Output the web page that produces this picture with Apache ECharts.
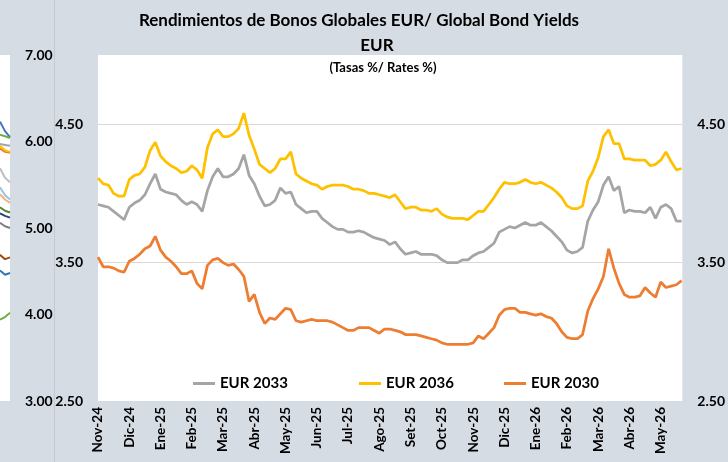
<!DOCTYPE html>
<html>
<head>
<meta charset="utf-8">
<script src="https://cdn.jsdelivr.net/npm/echarts@6/dist/echarts.min.js"></script>
<style>
  html, body { margin: 0; padding: 0; background: #d6dce4; }
  #chart { width: 728px; height: 462px; }
</style>
</head>
<body>
<div id="chart"></div>
<script>
// month labels on the x axis (one tick per month)
var months = ["Nov-24", "Dic-24", "Ene-25", "Feb-25", "Mar-25", "Abr-25", "May-25", "Jun-25", "Jul-25", "Ago-25",
  "Set-25", "Oct-25", "Nov-25", "Dic-25", "Ene-26", "Feb-26", "Mar-26", "Abr-26", "May-26"];

// readings taken six times per month, starting at Nov-24
var perMonth = 6;

var eur2033 = [
  3.92, 3.91, 3.90, 3.87, 3.84, 3.81, 3.90, 3.93, 3.95, 3.99,
  4.07, 4.14, 4.03, 4.01, 4.00, 3.99, 3.95, 3.92, 3.94, 3.92,
  3.87, 4.02, 4.12, 4.18, 4.12, 4.12, 4.14, 4.18, 4.28, 4.13,
  4.07, 3.98, 3.91, 3.92, 3.95, 4.04, 4.00, 4.01, 3.92, 3.89,
  3.86, 3.87, 3.87, 3.82, 3.79, 3.76, 3.74, 3.74, 3.72, 3.72,
  3.73, 3.72, 3.70, 3.68, 3.67, 3.66, 3.63, 3.65, 3.60, 3.56,
  3.57, 3.58, 3.56, 3.56, 3.56, 3.55, 3.52, 3.50, 3.50, 3.50,
  3.52, 3.52, 3.55, 3.57, 3.58, 3.61, 3.64, 3.72, 3.74, 3.76,
  3.75, 3.77, 3.79, 3.77, 3.77, 3.79, 3.76, 3.73, 3.69, 3.65,
  3.59, 3.57, 3.58, 3.61, 3.80, 3.88, 3.94, 4.06, 4.12, 4.02,
  4.05, 3.86, 3.88, 3.87, 3.87, 3.86, 3.90, 3.82, 3.90, 3.92,
  3.89, 3.80, 3.80
];

var eur2036 = [
  4.11, 4.07, 4.06, 4.00, 3.98, 3.98, 4.10, 4.13, 4.14, 4.19,
  4.31, 4.37, 4.27, 4.23, 4.20, 4.18, 4.15, 4.16, 4.20, 4.17,
  4.11, 4.33, 4.43, 4.46, 4.41, 4.41, 4.43, 4.47, 4.58, 4.42,
  4.32, 4.21, 4.18, 4.15, 4.18, 4.25, 4.25, 4.30, 4.14, 4.11,
  4.09, 4.07, 4.06, 4.03, 4.05, 4.06, 4.06, 4.06, 4.05, 4.03,
  4.03, 4.02, 4.00, 4.00, 3.99, 3.98, 3.97, 3.99, 3.94, 3.89,
  3.90, 3.90, 3.88, 3.88, 3.87, 3.89, 3.85, 3.83, 3.82, 3.82,
  3.82, 3.81, 3.84, 3.87, 3.87, 3.92, 3.97, 4.03, 4.08, 4.07,
  4.07, 4.08, 4.10, 4.08, 4.07, 4.08, 4.06, 4.04, 4.01, 3.97,
  3.91, 3.89, 3.89, 3.91, 4.09, 4.16, 4.26, 4.41, 4.46, 4.36,
  4.36, 4.25, 4.25, 4.24, 4.24, 4.24, 4.20, 4.21, 4.24, 4.30,
  4.23, 4.17, 4.18
];

var eur2030 = [
  3.54, 3.47, 3.47, 3.46, 3.44, 3.43, 3.51, 3.53, 3.56, 3.60,
  3.62, 3.69, 3.59, 3.54, 3.51, 3.47, 3.42, 3.42, 3.44, 3.35,
  3.31, 3.48, 3.52, 3.53, 3.50, 3.48, 3.49, 3.45, 3.40, 3.22,
  3.27, 3.14, 3.06, 3.10, 3.09, 3.13, 3.17, 3.16, 3.08, 3.07,
  3.08, 3.09, 3.08, 3.08, 3.08, 3.07, 3.05, 3.03, 3.01, 3.01,
  3.03, 3.03, 3.03, 3.01, 2.99, 3.02, 3.02, 3.01, 3.00, 2.98,
  2.98, 2.98, 2.97, 2.96, 2.95, 2.94, 2.92, 2.91, 2.91, 2.91,
  2.91, 2.91, 2.92, 2.97, 2.95, 2.99, 3.03, 3.12, 3.16, 3.17,
  3.17, 3.14, 3.14, 3.13, 3.12, 3.13, 3.11, 3.10, 3.06, 3.00,
  2.96, 2.95, 2.95, 2.98, 3.15, 3.24, 3.31, 3.40, 3.60, 3.46,
  3.35, 3.27, 3.25, 3.25, 3.26, 3.32, 3.28, 3.25, 3.36, 3.32,
  3.33, 3.34, 3.37
];

// the edge of the neighbouring chart that shows at the left border
var sideValues = [
  [6.23, 6.12, 6.05], [6.08, 6.06, 6.04], [5.97, 5.96, 5.95], [5.92, 5.88, 5.87],
  [5.95, 5.90, 5.88], [5.69, 5.58, 5.53], [5.47, 5.38, 5.33], [5.39, 5.33, 5.29],
  [5.24, 5.20, 5.18], [5.17, 5.14, 5.12], [5.06, 5.02, 5.00], [4.69, 4.64, 4.66],
  [4.51, 4.46, 4.48], [3.94, 3.97, 4.02]
];
var sideColors = ["#4472c4", "#70ad47", "#a5a5a5", "#ed7d31", "#ffc000", "#bfbfbf", "#9dc3e6",
  "#f4b183", "#548235", "#264478", "#7f7f7f", "#9e480e", "#2e75b6", "#70ad47"];

var font = "Lato, 'Open Sans', sans-serif";

function toPoints(arr) {
  return arr.map(function (v, i) { return [i / perMonth, v]; });
}

var myChart = echarts.init(document.getElementById("chart"), null, { renderer: "canvas" });

var bold = { fontFamily: font, fontWeight: "bold", color: "#000" };

var series = [
  { name: "EUR 2033", data: toPoints(eur2033), color: "#a5a5a5" },
  { name: "EUR 2036", data: toPoints(eur2036), color: "#ffc000" },
  { name: "EUR 2030", data: toPoints(eur2030), color: "#ed7d31" }
].map(function (s) {
  return {
    name: s.name, type: "line", xAxisIndex: 0, yAxisIndex: 0,
    data: s.data, color: s.color, showSymbol: false, smooth: false,
    lineStyle: { width: 2.75, color: s.color }
  };
});

sideValues.forEach(function (vals, k) {
  series.push({
    type: "line", xAxisIndex: 1, yAxisIndex: 2, silent: true, showSymbol: false,
    data: vals.map(function (v, i) { return [i / 2, v]; }),
    lineStyle: { width: 2, color: sideColors[k] }
  });
});

function legendAt(name, left) {
  return {
    data: [name], left: left, top: 371, icon: "rect", itemWidth: 22, itemHeight: 3,
    selectedMode: false, textStyle: Object.assign({ fontSize: 15 }, bold)
  };
}

var option = {
  animation: false,
  backgroundColor: "#d6dce4",
  title: [
    { text: "Rendimientos de Bonos Globales EUR/ Global Bond Yields", left: 359, top: 11, textAlign: "center", padding: 0,
      textStyle: Object.assign({ fontSize: 17, lineHeight: 20 }, bold) },
    { text: "EUR", left: 377, top: 36, textAlign: "center", padding: 0,
      textStyle: Object.assign({ fontSize: 17, lineHeight: 20 }, bold) },
    { text: "(Tasas %/ Rates %)", left: 383, top: 60, textAlign: "center", padding: 0,
      textStyle: Object.assign({ fontSize: 13, lineHeight: 16 }, bold) }
  ],
  legend: [legendAt("EUR 2033", 188), legendAt("EUR 2036", 354), legendAt("EUR 2030", 499)],
  graphic: [
    { type: "line", shape: { x1: 54.5, y1: 0, x2: 54.5, y2: 462 }, style: { stroke: "#c5cad2", lineWidth: 1 }, z: 10 }
  ],
  grid: [
    { left: 98, top: 55, width: 587, height: 346, show: true, backgroundColor: "#fff", borderWidth: 0 },
    { left: 0, top: 55, width: 10, height: 346, show: true, backgroundColor: "#fff", borderWidth: 0 }
  ],
  xAxis: [
    {
      gridIndex: 0, type: "value", min: 0, max: 18.69, interval: 1,
      axisLine: { show: false }, axisTick: { show: false }, splitLine: { show: false },
      axisLabel: Object.assign({
        rotate: 90, fontSize: 13.5, margin: 6, showMaxLabel: false,
        formatter: function (v) { return months[v] || ""; }
      }, bold)
    },
    { gridIndex: 1, type: "value", min: 0, max: 1, show: false }
  ],
  yAxis: [
    {
      gridIndex: 0, type: "value", position: "left", min: 2.5, max: 5, interval: 1,
      axisLine: { show: false }, axisTick: { show: false },
      splitLine: { show: true, showMinLine: false, showMaxLine: false, lineStyle: { color: "#d9d9d9", width: 1 } },
      axisLabel: Object.assign({ fontSize: 14, margin: 15, showMaxLabel: false,
        formatter: function (v) { return v.toFixed(2); } }, bold)
    },
    {
      gridIndex: 0, type: "value", position: "right", min: 2.5, max: 5, interval: 1,
      axisLine: { show: false }, axisTick: { show: false }, splitLine: { show: false },
      axisLabel: Object.assign({ fontSize: 14, margin: 15, showMaxLabel: false,
        formatter: function (v) { return v.toFixed(2); } }, bold)
    },
    {
      gridIndex: 1, type: "value", position: "right", min: 3, max: 7, interval: 1,
      axisLine: { show: false }, axisTick: { show: false }, splitLine: { show: false },
      axisLabel: Object.assign({ fontSize: 14, margin: 15,
        formatter: function (v) { return v.toFixed(2); } }, bold)
    }
  ],
  series: series
};

myChart.setOption(option);
</script>
</body>
</html>
